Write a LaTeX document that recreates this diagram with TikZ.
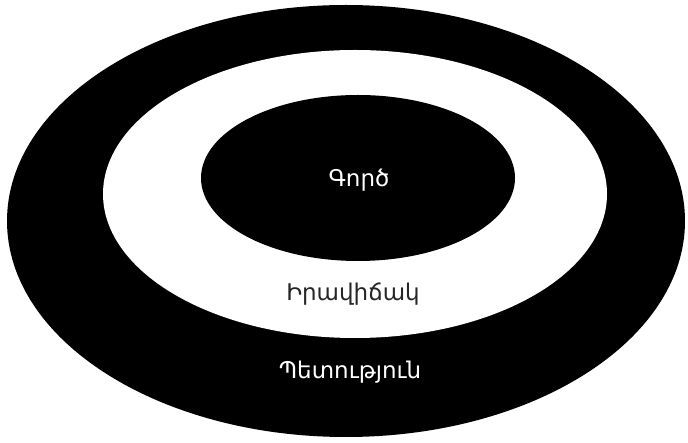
\documentclass[tikz,border=0pt]{standalone}
\usepackage{fontspec}
\newfontfamily\armfont{DejaVu Sans}
\begin{document}
\begin{tikzpicture}[x=1pt,y=-1pt,
  ring/.style={fill=black,draw=none},
  gap/.style={fill=white,draw=none},
  lbl/.style={font=\armfont\fontsize{23}{26}\selectfont,inner sep=0pt}]
\useasboundingbox (0,0) rectangle (688,443);
\fill[white] (0,0) rectangle (688,443);
\path[ring] (346,221) ellipse [x radius=339, y radius=216];
\path[gap] (355,194) ellipse [x radius=252, y radius=144];
\path[ring] (358,178) ellipse [x radius=157, y radius=83];
\node[lbl,text=white] (work) at (359,180) {Գործ};
\node[lbl,text=black!85] (situation) at (353,294) {Իրավիճակ};
\node[lbl,text=white] (state) at (350,372) {Պետություն};
\end{tikzpicture}
\end{document}
